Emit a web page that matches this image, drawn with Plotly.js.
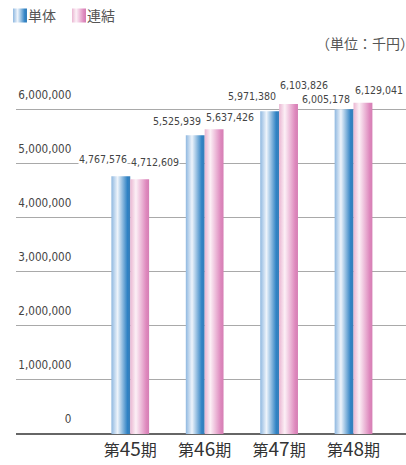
<!DOCTYPE html>
<html>
<head>
<meta charset="utf-8">
<script src="https://cdn.plot.ly/plotly-3.0.1.min.js"></script>
<style>
html,body{margin:0;padding:0;background:#fff;}
#chart{width:406px;height:465px;}
</style>
</head>
<body>
<div id="chart"></div>
<script>
const categories = ['第45期', '第46期', '第47期', '第48期'];
const tantai = [4767576, 5525939, 5971380, 6005178];
const renketsu = [4712609, 5637426, 6103826, 6129041];
const seriesNames = ['単体', '連結'];
const yTickVals = [0, 1000000, 2000000, 3000000, 4000000, 5000000, 6000000];
const yTickText = ['0', '1,000,000', '2,000,000', '3,000,000', '4,000,000', '5,000,000', '6,000,000'];
const unitText = '（単位：千円）';

// label placement (pixels above each bar top), as laid out in the reference
const liftTantai = [17, 14, 15, 10];
const liftRenketsu = [17, 12, 19, 13];

const cjkFont = '"Noto Sans CJK JP", "Noto Sans", sans-serif';
const fmt = v => v.toLocaleString('en-US');

// pick a narrow font that is installed, and size it to the reference text widths
const ctx = document.createElement('canvas').getContext('2d');
function installed(name) {
  const s = '4,767,576 abcXYZ';
  ctx.font = '40px monospace'; const w1 = ctx.measureText(s).width;
  ctx.font = '40px "' + name + '", monospace'; const w2 = ctx.measureText(s).width;
  ctx.font = '40px serif'; const w3 = ctx.measureText(s).width;
  ctx.font = '40px "' + name + '", serif'; const w4 = ctx.measureText(s).width;
  return Math.abs(w1 - w2) > 0.5 || Math.abs(w3 - w4) > 0.5;
}
const candidates = ['Liberation Sans Narrow', 'DejaVu Sans Condensed', 'Roboto Condensed', 'Open Sans Condensed', 'Roboto', 'Liberation Sans'];
let numFamily = 'Roboto';
for (const c of candidates) { if (installed(c)) { numFamily = c; break; } }
const numFont = '"' + numFamily + '", sans-serif';
function fitSize(sample, targetW) {
  ctx.font = '100px "' + numFamily + '", sans-serif';
  return Math.round(100 * targetW / ctx.measureText(sample).width * 10) / 10;
}
const valSize = Math.min(13.5, fitSize('4,767,576', 48));
const tickSize = Math.min(15, fitSize('6,000,000', 53));

const xTickText = categories.map(c => c.replace(/(\d+)/, '<span style="font-size:19px">$1</span>'));

const traces = [
  {type: 'bar', name: seriesNames[0], x: categories, y: tantai,
   marker: {color: '#6aa3d6', line: {width: 0}}, hoverinfo: 'skip'},
  {type: 'bar', name: seriesNames[1], x: categories, y: renketsu,
   marker: {color: '#e8a8cc', line: {width: 0}}, hoverinfo: 'skip'},
  {type: 'scatter', mode: 'markers', x: categories, y: tantai, yaxis: 'y2',
   marker: {opacity: 0, size: 1}, showlegend: false, hoverinfo: 'skip'}
];

const annotations = [];
categories.forEach((c, i) => {
  annotations.push({x: c, y: tantai[i], xref: 'x', yref: 'y', text: fmt(tantai[i]),
    showarrow: false, xshift: -27.5, yshift: liftTantai[i], yanchor: 'middle',
    bgcolor: '#ffffff', borderpad: 0,
    font: {family: numFont, size: valSize, color: '#444'}});
  annotations.push({x: c, y: renketsu[i], xref: 'x', yref: 'y', text: fmt(renketsu[i]),
    showarrow: false, xshift: 25, yshift: liftRenketsu[i], yanchor: 'middle',
    bgcolor: '#ffffff', borderpad: 0,
    font: {family: numFont, size: valSize, color: '#444'}});
});
annotations.push({x: 1, y: 1, xref: 'paper', yref: 'paper', text: unitText,
  showarrow: false, xanchor: 'left', yanchor: 'middle', xshift: -92, yshift: 18,
  font: {family: cjkFont, size: 14, color: '#555'}});

// tick labels sit above their grid lines, as in the reference
const labelLift = 120000;

const layout = {
  width: 406, height: 465,
  margin: {l: 13, r: 0, t: 61, b: 31, pad: 0},
  paper_bgcolor: '#fff', plot_bgcolor: '#fff',
  barmode: 'group', bargap: 0.493, bargroupgap: 0,
  showlegend: true,
  legend: {orientation: 'h', x: -0.04, xanchor: 'left', y: 1.165, yanchor: 'top',
    font: {family: cjkFont, size: 14, color: '#555'}, traceorder: 'normal',
    itemwidth: 30, bgcolor: 'rgba(0,0,0,0)'},
  xaxis: {type: 'category', range: [-1.535, 3.705], showgrid: false, zeroline: false,
    showline: false, ticks: '', ticklen: 0, tickvals: categories, ticktext: xTickText,
    ticklabelstandoff: 5,
    tickfont: {family: cjkFont, size: 16, color: '#333'}, fixedrange: true},
  yaxis: {range: [0, 6900000], tickvals: yTickVals, showticklabels: false,
    showgrid: true, gridcolor: '#a9a9a9', gridwidth: 1,
    zeroline: true, zerolinecolor: '#666', zerolinewidth: 1.5,
    showline: false, ticks: '', fixedrange: true},
  yaxis2: {overlaying: 'y', anchor: 'free', position: 0.142, side: 'left',
    range: [-labelLift, 6900000 - labelLift], tickvals: yTickVals, ticktext: yTickText,
    ticklabelposition: 'outside top', showgrid: false, zeroline: false, showline: false,
    ticks: '', tickfont: {family: numFont, size: tickSize, color: '#444'}, fixedrange: true},
  annotations: annotations
};

Plotly.newPlot('chart', traces, layout, {displayModeBar: false, staticPlot: true}).then(gd => {
  const svgNS = 'http://www.w3.org/2000/svg';
  const svg = gd.querySelector('svg.main-svg');
  let defs = svg.querySelector('defs');
  if (!defs) { defs = document.createElementNS(svgNS, 'defs'); svg.insertBefore(defs, svg.firstChild); }
  function grad(id, stops) {
    const g = document.createElementNS(svgNS, 'linearGradient');
    g.setAttribute('id', id);
    g.setAttribute('x1', '0'); g.setAttribute('y1', '0');
    g.setAttribute('x2', '1'); g.setAttribute('y2', '0');
    stops.forEach(s => {
      const st = document.createElementNS(svgNS, 'stop');
      st.setAttribute('offset', s[0]);
      st.setAttribute('stop-color', s[1]);
      g.appendChild(st);
    });
    defs.appendChild(g);
  }
  grad('gBlue', [[0, '#8fb8e0'], [0.33, '#eef4fb'], [0.85, '#2f82c4'], [1, '#3a7fb8']]);
  grad('gPink', [[0, '#eab6d2'], [0.3, '#fcf0f6'], [0.85, '#de88bd'], [1, '#d57fb4']]);
  const ids = ['gBlue', 'gPink'];
  gd.querySelectorAll('.barlayer .trace').forEach((t, i) => {
    t.querySelectorAll('path').forEach(p => { p.style.fill = 'url(#' + ids[i] + ')'; });
  });
  // legend: larger swatch right next to its text, items placed like the reference
  const legendTargets = [13, 72];
  gd.querySelectorAll('.legend .traces').forEach((t, i) => {
    const p = t.querySelector('.legendpoints path');
    if (p) {
      p.style.fill = 'url(#' + ids[i] + ')';
      p.setAttribute('d', 'M7,7H-7V-7H7Z');
    }
    const txt = t.querySelector('text.legendtext');
    if (p && txt) {
      const pr = p.getBoundingClientRect();
      const tr = txt.getBoundingClientRect();
      const curX = parseFloat(txt.getAttribute('x')) || 40;
      txt.setAttribute('x', curX - (tr.left - (pr.right + 1)));
      const dx = legendTargets[i] - pr.left;
      t.setAttribute('transform', (t.getAttribute('transform') || '') + ' translate(' + dx + ',0)');
    }
  });
});
</script>
</body>
</html>
